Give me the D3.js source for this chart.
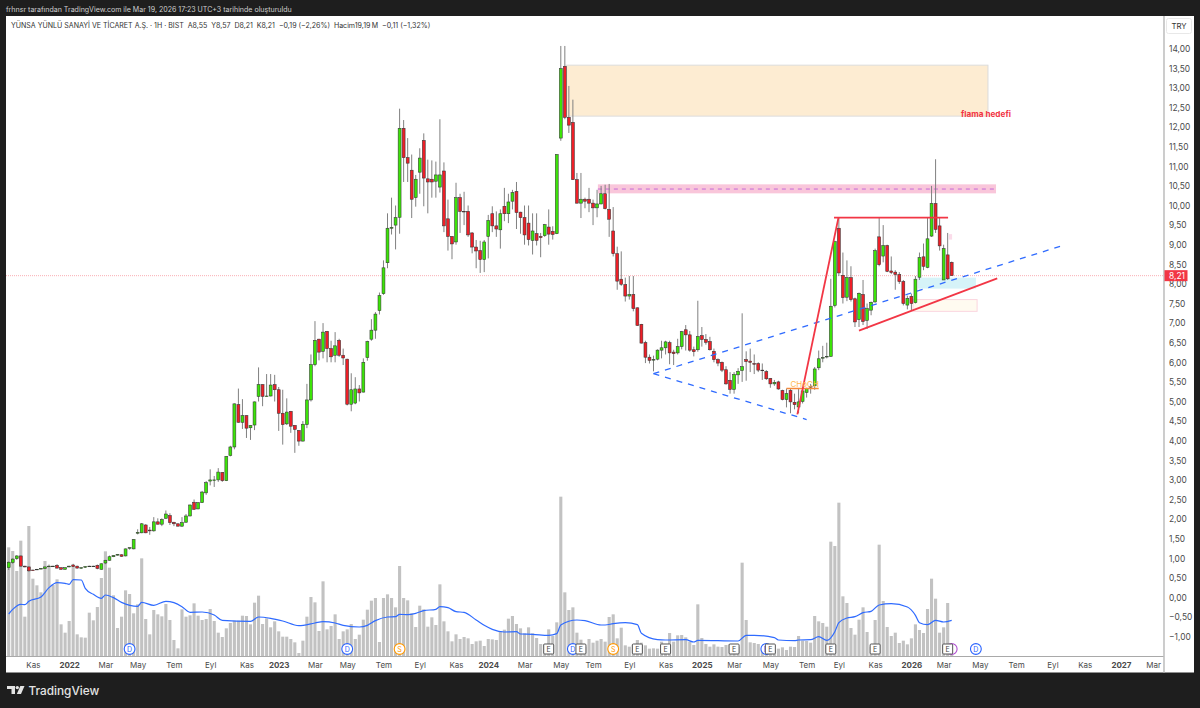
<!DOCTYPE html>
<html><head><meta charset="utf-8">
<script src="https://cdn.jsdelivr.net/npm/d3@7"></script>
<style>html,body{margin:0;padding:0;background:#1e1e1e}svg{display:block}text{font-family:Inter,"Liberation Sans",sans-serif}</style>
</head><body><svg id="c" width="1200" height="708"></svg>
<script>
const opens=[.76,.89,.99,1.06,.80,.78,.70,.71,.73,.74,.78,.80,.82,.76,.72,.78,.83,.80,.75,.77,.79,.80,.82,.72,.88,.95,1.04,1.08,1.09,1.06,1.26,1.24,1.64,1.65,1.85,1.72,1.70,1.93,1.87,2.02,2.09,1.92,1.88,1.82,1.92,2.08,2.43,2.26,2.42,2.67,2.97,3.0,3.0,3.19,2.98,3.62,3.84,4.92,4.47,4.64,4.33,4.40,5.13,5.43,5.13,5.14,5.43,5.30,4.70,4.43,4.75,4.39,4.26,3.99,4.41,5.04,5.94,6.59,6.28,6.79,6.35,6.18,6.56,6.18,6.08,4.93,4.96,5.32,5.24,6.12,6.59,6.82,7.32,7.75,8.54,9.42,9.5,9.70,11.97,11.22,10.9,10.2,10.85,11.66,10.68,10.67,10.62,10.47,10.88,9.66,9.21,9.07,10.2,9.85,9.85,9.3,8.94,8.85,8.62,9.21,9.79,9.48,9.38,9.98,9.79,10.11,10.36,9.83,9.69,9.55,9.11,9.28,9.21,9.23,9.45,9.34,9.28,11.72,13.55,12.25,12.12,10.66,10.06,10.16,10.16,10.06,9.94,10.04,10.3,9.9,9.35,8.77,8.12,7.98,7.69,7.73,7.39,6.97,6.5,6.13,6.07,6.08,6.31,6.37,6.5,6.26,6.24,6.4,6.83,6.7,6.32,6.32,6.68,6.58,6.53,6.28,6.07,6.0,5.81,5.54,5.31,5.68,5.79,6.07,6.03,5.97,5.97,5.8,5.76,5.59,5.45,5.5,5.28,5.05,5.28,4.98,4.86,5.0,5.23,5.38,5.4,5.86,6.11,6.15,6.15,7.45,9.42,8.22,7.66,8.16,7.62,7.09,7.73,7.07,7.33,7.54,9.2,8.71,8.98,8.33,8.3,8.24,8.06,7.46,7.68,7.52,8.17,8.69,8.42,9.22,10.05,9.48,8.1,8.74,8.55];
const closes=[.90,.98,1.06,.80,.78,.68,.69,.72,.74,.78,.80,.80,.75,.72,.76,.80,.79,.75,.76,.79,.80,.80,.74,.86,.95,1.04,1.07,1.10,1.05,1.24,1.27,1.48,1.66,1.88,1.65,1.70,1.93,1.87,1.99,2.13,1.91,1.88,1.82,1.91,2.08,2.36,2.25,2.42,2.69,2.93,3.0,3.0,3.2,2.98,3.6,3.84,4.94,4.47,4.64,4.32,4.39,4.99,5.43,5.13,5.14,5.42,5.30,4.70,4.41,4.73,4.37,4.29,3.99,4.42,5.04,5.94,6.56,6.26,6.77,6.35,6.14,6.42,6.18,6.11,4.93,5.30,5.32,5.22,6.0,6.53,6.82,7.23,7.7,8.41,9.42,9.44,9.69,11.97,11.22,11.08,10.16,10.67,11.21,10.7,10.6,10.6,10.78,10.78,9.48,9.21,9.02,10.2,9.85,9.84,9.25,8.94,8.84,8.62,9.07,9.62,9.48,9.4,9.79,9.79,10.09,10.33,9.82,9.69,9.25,9.13,9.35,9.11,9.18,9.51,9.27,9.26,11.3,13.49,12.25,12.05,10.66,10.06,10.16,10.11,10.06,9.94,10.04,10.3,9.92,9.65,8.77,8.07,7.99,7.69,7.73,7.37,6.94,6.49,6.13,6.05,6.07,6.31,6.37,6.52,6.24,6.22,6.4,6.78,6.7,6.31,6.27,6.66,6.58,6.51,6.32,6.07,5.98,5.8,5.45,5.31,5.69,5.77,5.89,6.02,6.0,5.95,5.8,5.79,5.58,5.45,5.49,5.32,5.05,5.2,4.99,4.92,4.99,5.27,5.33,5.37,5.83,6.09,6.12,6.15,7.43,9.08,8.28,7.65,8.16,7.6,7.03,7.76,7.04,7.37,7.53,8.85,8.49,8.98,8.32,8.29,8.24,8.06,7.5,7.63,7.5,8.12,8.67,8.45,9.15,10.05,9.39,8.97,8.9,8.13,8.21];
const highs=[.92,1.0,1.08,1.07,.81,.79,.71,.73,.75,.79,.84,.81,.85,.77,.77,.81,.86,.81,.77,.80,.81,.81,.84,.87,.96,1.07,1.08,1.11,1.10,1.25,1.28,1.49,1.74,1.90,1.87,1.80,2.05,2.02,2.02,2.22,2.15,1.93,1.89,2.05,2.13,2.37,2.50,2.43,2.72,2.97,3.27,3.1,3.3,3.2,3.61,3.87,4.95,5.33,5.06,4.65,4.4,5.0,5.87,5.44,5.70,5.7,5.68,5.37,5.3,5.08,4.76,4.4,4.27,4.5,5.45,6.2,7.05,6.6,7.0,6.8,6.55,6.77,6.6,6.35,6.09,5.72,5.62,5.42,6.1,6.55,7.1,7.28,7.78,8.6,9.8,10.2,10.0,12.47,12.18,11.72,11.3,10.78,11.46,11.84,11.17,11.15,11.12,12.2,11.1,10.15,9.22,10.58,10.3,10.35,10.0,9.32,9.12,9.1,9.12,9.76,9.98,9.85,9.9,10.45,10.3,10.4,10.6,9.84,10.0,10.0,9.8,9.8,9.3,9.53,9.9,9.47,11.31,14.07,14.07,13.05,12.7,10.83,10.83,10.2,10.45,10.15,10.4,10.5,10.53,10.55,9.96,8.95,8.83,8.16,8.2,8.2,7.4,6.98,6.55,6.2,6.17,6.33,6.55,6.55,6.55,6.32,6.6,6.8,6.95,6.8,6.4,7.57,6.9,6.72,6.65,6.35,6.1,6.02,5.9,5.75,5.75,5.85,7.25,6.28,6.35,6.2,6.0,5.97,5.8,5.6,5.55,5.53,5.3,5.33,5.33,5.2,5.33,5.35,5.35,5.45,5.88,6.3,6.42,6.5,8.13,9.1,9.7,8.8,8.6,8.45,7.65,7.78,8.1,7.5,7.55,8.9,9.7,9.5,9.0,8.7,8.35,8.3,8.1,7.7,7.75,8.2,8.8,9.03,9.7,10.5,11.18,9.7,9.0,9.3,8.57];
const lows=[.70,.86,.96,.79,.77,.66,.68,.70,.72,.73,.77,.79,.74,.71,.71,.77,.78,.74,.74,.76,.78,.79,.72,.71,.85,.94,1.03,1.07,1.04,1.05,1.22,1.23,1.61,1.64,1.64,1.60,1.68,1.86,1.82,2.01,1.85,1.82,1.81,1.80,1.91,2.07,2.24,2.25,2.41,2.62,2.86,2.82,2.95,2.95,2.97,3.6,3.78,4.46,4.30,4.07,4.02,4.27,5.0,4.88,5.12,5.13,5.0,4.25,3.9,4.4,4.2,3.69,3.87,3.98,4.32,5.0,5.9,6.05,6.1,6.0,6.0,6.0,6.14,5.93,4.9,4.75,4.93,5.0,5.23,6.04,6.55,6.6,7.22,7.72,8.4,9.26,8.88,9.28,10.6,10.6,9.68,9.97,10.3,9.98,9.8,10.2,10.2,10.33,9.32,8.85,8.63,9.0,9.3,9.5,9.2,8.78,8.4,8.28,8.3,8.65,9.32,9.2,8.9,9.6,9.55,9.9,9.4,9.28,9.0,8.98,8.75,8.98,8.68,9.2,9.0,9.13,9.27,11.65,12.2,11.85,10.65,10.05,9.68,9.93,9.83,9.5,9.7,10.03,9.9,9.2,8.7,7.85,7.95,7.55,7.6,7.3,6.93,6.48,5.98,5.97,5.77,6.05,6.1,6.2,5.95,5.93,6.2,6.33,6.3,6.27,6.15,6.27,6.4,6.45,6.3,6.0,5.9,5.75,5.43,5.2,5.2,5.45,5.5,5.53,5.75,5.7,5.75,5.55,5.55,5.35,5.4,5.3,5.03,4.85,4.7,4.8,4.7,4.95,5.1,5.2,5.3,5.8,6.0,6.1,6.14,7.4,8.2,7.5,7.56,7.55,6.9,6.9,6.95,6.85,7.2,7.52,8.45,8.55,8.3,8.25,7.85,8.0,7.45,7.35,7.33,7.5,8.1,8.35,8.4,9.2,9.3,8.85,8.1,8.1,8.21];
const volumes=[326,315,255,346,118,390,232,212,191,285,265,213,230,95,70,105,270,65,56,55,130,107,147,234,314,265,182,84,118,197,186,128,155,293,111,65,138,125,119,156,108,48,23,140,118,122,158,121,108,111,141,105,70,57,83,99,106,106,121,120,95,160,181,96,113,86,104,74,58,58,51,41,9,46,118,177,161,75,224,80,90,125,51,74,80,96,51,64,109,139,166,174,42,174,185,174,146,270,174,167,128,87,151,140,88,116,93,215,104,74,44,65,51,57,53,36,44,46,30,51,50,48,74,79,112,120,96,83,68,86,68,54,36,36,80,60,101,478,191,138,146,70,49,28,51,40,46,51,43,117,125,53,85,32,28,35,48,40,32,22,23,22,43,34,69,43,62,63,56,43,33,155,54,36,28,35,28,27,33,36,33,28,280,108,41,39,36,18,23,28,18,22,26,18,28,27,60,46,45,40,120,104,99,88,343,330,460,179,159,84,64,109,146,72,28,108,334,165,87,60,70,39,46,35,53,95,78,69,141,232,172,70,86,159,18];
const maBars=[0,1,3,4,5,8,10,12,14,15,16,18,19,21,23,24,26,28,32,33,36,39,41,43,45,48,51,53,60,62,65,68,72,76,78,81,83,87,89,91,94,96,97,99,101,103,106,107,109,111,113,116,118,120,123,126,127,130,134,136,137,141,143,147,148,150,153,156,157,161,163,168,170,171,181,183,185,190,191,195,196,199,201,203,205,206,208,210,212,214,216,219,223,225,226,228,230,232,234];
const maValues=[126,140,155,154,164,177,205,220,218,215,229,228,203,185,173,183,175,161,149,161,152,164,160,148,131,132,123,107,104,117,113,105,91,99,103,99,92,87,92,106,117,118,125,124,128,136,140,148,145,133,131,108,92,80,72,73,66,65,62,67,93,108,106,93,93,97,100,94,68,49,48,49,42,47,45,62,62,55,48,46,48,49,58,47,73,100,114,118,130,134,153,157,147,122,100,94,107,102,107];
const priceTicks=d3.range(-1,14.01,.5);
const tickBars=[6,15,24,32,41,50,59,67,76,84,93,102,111,119,128,137,145,154,163,172,180,189,198,206,215,224,232,241,250,259,267,276,284];
const tickLabels=["Kas","2022","Mar","May","Tem","Eyl","Kas","2023","Mar","May","Tem","Eyl","Kas","2024","Mar","May","Tem","Eyl","Kas","2025","Mar","May","Tem","Eyl","Kas","2026","Mar","May","Tem","Eyl","Kas","2027","Mar"];
const dividendBars=[30,84,140,188,240], splitBars=[97,150], earningBars=[134,142,156,163,180,189,204,215,233];
const lastClose=8.21;

const svg=d3.select("#c");
const x=d3.scaleLinear().domain([0,234]).range([8.7,951.7]);
const y=d3.scaleLinear().domain([0,14]).range([597.5,48.7]);
const yV=d3.scaleLinear().domain([0,498]).range([656,490]);
const fmt=v=>(v<0?"−":"")+Math.abs(v).toFixed(2).replace(".",",");

svg.append("rect").attr("x",6).attr("y",16).attr("width",1188).attr("height",656.5).attr("fill","#fff");
svg.append("defs").append("clipPath").attr("id","pc").append("rect").attr("x",6).attr("y",36).attr("width",1158).attr("height",620);
const g=svg.append("g").attr("clip-path","url(#pc)");

// volume
g.selectAll(".v").data(volumes).join("rect").attr("x",(d,i)=>x(i)-1.55).attr("width",3.1).attr("y",d=>yV(d)).attr("height",d=>656-yV(d)).attr("fill","#c2c2c2");
// zones behind the candles
function zone(i0,i1,p0,p1,fill,stroke){g.append("rect").attr("x",x(i0)).attr("width",x(i1)-x(i0)).attr("y",y(p0)).attr("height",y(p1)-y(p0)).attr("fill",fill).attr("stroke",stroke||"none").attr("stroke-width",1);}
zone(138.3,243,13.58,12.28,"#fdecd2","#dcdcdc");
zone(146.2,245,10.54,10.31,"#f9c6da");
g.append("line").attr("x1",x(146.2)).attr("x2",x(245)).attr("y1",y(10.42)).attr("y2",y(10.42)).attr("stroke","#c05fd8").attr("stroke-width",.9).attr("stroke-dasharray","4 4");
zone(225.6,240,8.16,7.88,"#d6f3f8");
zone(224.4,240.3,7.6,7.3,"#fffbf0","#fbd5de");
zone(233.3,234.1,9.27,9.13,"#fbdcea");
// price line
g.append("line").attr("x1",6).attr("x2",1164).attr("y1",y(lastClose)).attr("y2",y(lastClose)).attr("stroke","#f99aa2").attr("stroke-width",.8).attr("stroke-dasharray","1 1");
// ma line
g.append("path").datum(maBars.map((b,i)=>[b,maValues[i]])).attr("fill","none").attr("stroke","#2f6bff").attr("stroke-width",1.2)
 .attr("d",d3.line().x(d=>x(d[0])).y(d=>yV(d[1])).curve(d3.curveMonotoneX));
// candles
const idx=d3.range(opens.length);
g.selectAll(".w").data(idx).join("line").attr("x1",i=>x(i)).attr("x2",i=>x(i)).attr("y1",i=>y(highs[i])).attr("y2",i=>y(lows[i])).attr("stroke","#808080").attr("stroke-width",1);
g.selectAll(".b").data(idx).join("rect").attr("x",i=>x(i)-1.45).attr("width",2.9)
 .attr("y",i=>y(Math.max(opens[i],closes[i]))).attr("height",i=>Math.max(.6,Math.abs(y(opens[i])-y(closes[i]))))
 .attr("fill",i=>closes[i]>=opens[i]?"#3ce408":"#ee1f27").attr("stroke","#333").attr("stroke-width",.55);
// drawings
function seg(a,b,c,d,col,w,dash){g.append("line").attr("x1",x(a)).attr("y1",y(b)).attr("x2",x(c)).attr("y2",y(d)).attr("stroke",col).attr("stroke-width",w).attr("stroke-dasharray",dash||null);}
seg(160,5.71,261.6,8.98,"#2f6bff",1.3,"6 6");
seg(160,5.71,198,4.54,"#2f6bff",1.3,"6 6");
seg(193,5.33,201,5.33,"#f58a3c",1.5);
seg(195.7,4.67,205.9,9.69,"#f23645",1.8);
seg(204.8,9.69,233.1,9.69,"#f23645",1.8);
seg(211,6.81,245.3,8.14,"#f23645",1.8);
g.append("text").attr("x",x(194)).attr("y",y(5.33)-2).attr("font-size",8).attr("fill","#ffb74d").text("CHoCH");
g.append("text").attr("x",961).attr("y",y(12.28)+1).attr("font-size",8.2).attr("font-weight",700).attr("fill","#f23645").text("flama hedefi");
// event markers
const mY=649;
function circ(i,col,t){const m=g.append("g").attr("transform",`translate(${x(i)},${mY})`);
 m.append("circle").attr("r",5.4).attr("fill","#fff").attr("stroke",col).attr("stroke-width",1.1);
 m.append("text").attr("text-anchor","middle").attr("dy",2.5).attr("font-size",7).attr("fill",col).text(t);}
circ(234,"#b04fd0","");
dividendBars.forEach(i=>circ(i,"#2962ff","D"));
splitBars.forEach(i=>circ(i,"#ff9800","S"));
earningBars.forEach(i=>{const m=g.append("g").attr("transform",`translate(${x(i)},${mY})`);
 m.append("rect").attr("x",-5).attr("y",-5).attr("width",10).attr("height",10).attr("rx",1).attr("fill","#fff").attr("stroke","#555").attr("stroke-width",1);
 m.append("text").attr("text-anchor","middle").attr("dy",2.5).attr("font-size",7).attr("fill","#444").text("E");});
// axes
const ay=d3.axisRight(y).tickValues(priceTicks).tickSize(0).tickPadding(5).tickFormat(fmt);
svg.append("g").attr("transform","translate(1164,0)").call(ay).call(s=>s.select(".domain").remove())
 .selectAll("text").attr("font-size",8.4).attr("fill","#4a4a4a").attr("font-family","Inter,'Liberation Sans',sans-serif");
const ax=d3.axisBottom(x).tickValues(tickBars).tickSize(0).tickPadding(5.5).tickFormat((d,i)=>tickLabels[i]);
svg.append("g").attr("transform","translate(0,656.5)").call(ax).call(s=>s.select(".domain").remove())
 .selectAll("text").attr("font-size",8).attr("fill","#4a4a4a").attr("font-family","Inter,'Liberation Sans',sans-serif")
 .attr("font-weight",(d,i)=>/^20/.test(tickLabels[i])?700:400);
svg.append("line").attr("x1",6).attr("x2",1164).attr("y1",656.5).attr("y2",656.5).attr("stroke","#a9a9a9").attr("stroke-width",1);
svg.append("line").attr("x1",1164).attr("x2",1164).attr("y1",16).attr("y2",672.5).attr("stroke","#c0c0c0").attr("stroke-width",1.6);
// last price label
svg.append("rect").attr("x",1164.5).attr("y",y(lastClose)-5.5).attr("width",23).attr("height",11).attr("fill","#f23645");
svg.append("text").attr("x",1169).attr("y",y(lastClose)+3).attr("font-size",8.4).attr("fill","#fff").text(fmt(lastClose));
// TRY box
svg.append("rect").attr("x",1166.5).attr("y",18.5).attr("width",25).attr("height",15).attr("rx",2).attr("fill","#fff").attr("stroke","#e8e8e8");
svg.append("text").attr("x",1179).attr("y",28.5).attr("text-anchor","middle").attr("font-size",7.8).attr("fill","#333").text("TRY");
// titles
svg.append("text").attr("x",6).attr("y",12).attr("font-size",7.05).attr("fill","#cfcfcf").text("frhnsr tarafından TradingView.com ile Mar 19, 2026 17:23 UTC+3 tarihinde oluşturuldu");
svg.append("text").attr("x",11).attr("y",28).attr("font-size",7.05).attr("fill","#333").text("YÜNSA YÜNLÜ SANAYİ VE TİCARET A.Ş. · 1H · BIST \u00a0A8,55 \u00a0Y8,57 \u00a0D8,21 \u00a0K8,21 \u00a0−0,19 (−2,26%) \u00a0Hacim19,19\u2009M \u00a0−0,11 (−1,32%)");
// logo
const lg=svg.append("g").attr("fill","#e4e4e4");
lg.append("path").attr("d","M7 686H15V694H11.5V689H7Z");
lg.append("circle").attr("cx",17.3).attr("cy",687.6).attr("r",1.7);
lg.append("path").attr("d","M20.3 686H24.5L21 694H16.8Z");
svg.append("text").attr("x",28.5).attr("y",695).attr("font-size",11.8).attr("font-weight",500).attr("fill","#e4e4e4").text("TradingView");
</script></body></html>
